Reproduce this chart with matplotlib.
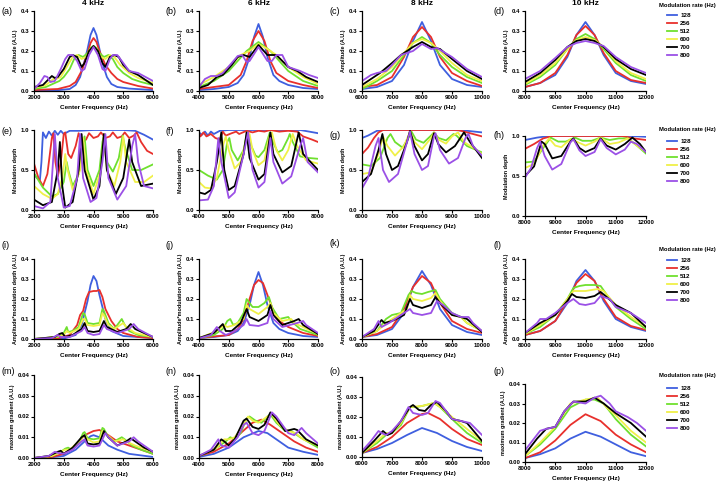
import matplotlib.pyplot as plt
from matplotlib.lines import Line2D

plt.rcParams['font.family'] = ['Liberation Sans', 'DejaVu Sans']

rates = [128, 256, 512, 600, 700, 800]
colors = ['#3f5fdf', '#e8302c', '#6fe02e', '#f0f048', '#000000', '#9b50e6']
titles = ['4 kHz', '6 kHz', '8 kHz', '10 kHz']
xlims = [(2000, 6000), (4000, 8000), (6000, 10000), (8000, 12000)]
ylabels = ['Amplitude (A.U.)', 'Modulation depth',
           'Amplitude*modulation depth (A.U.)', 'maximum gradient (A.U.)']
letters = 'abcdefghijklmnop'

# ---- row 1 : amplitude ----
amp_4k = {
    128: [(2000, .002), (2800, .004), (3200, .01), (3400, .03), (3550, .07), (3700, .15), (3800, .21), (3900, .28), (4000, .315), (4100, .28), (4200, .21), (4300, .14), (4450, .07), (4600, .035), (4800, .02), (5200, .012), (6000, .005)],
    256: [(2000, .005), (2800, .01), (3200, .025), (3400, .045), (3600, .1), (3800, .19), (3900, .24), (4000, .265), (4100, .245), (4200, .2), (4400, .13), (4600, .09), (4800, .06), (5000, .045), (5500, .025), (6000, .012)],
    512: [(2000, .01), (2400, .02), (2700, .04), (2850, .05), (3000, .07), (3200, .11), (3350, .16), (3500, .18), (3650, .17), (3800, .19), (3900, .215), (4000, .225), (4100, .215), (4200, .19), (4350, .17), (4500, .18), (4650, .16), (4800, .12), (5000, .09), (5300, .06), (5600, .045), (6000, .03)],
    600: [(2000, .015), (2400, .03), (2650, .06), (2750, .06), (2900, .07), (3100, .12), (3300, .17), (3450, .18), (3600, .16), (3750, .17), (3900, .21), (4000, .22), (4100, .21), (4250, .17), (4400, .16), (4550, .18), (4700, .17), (4900, .13), (5200, .09), (5500, .065), (6000, .04)],
    700: [(2000, .02), (2300, .03), (2500, .06), (2600, .075), (2700, .065), (2800, .07), (3000, .11), (3200, .17), (3300, .18), (3450, .17), (3600, .12), (3700, .14), (3850, .2), (4000, .225), (4150, .2), (4300, .14), (4400, .12), (4550, .17), (4700, .18), (4850, .17), (5000, .13), (5200, .1), (5500, .08), (5800, .05), (6000, .03)],
    800: [(2000, .01), (2200, .04), (2350, .075), (2450, .07), (2550, .045), (2700, .05), (2900, .11), (3050, .16), (3150, .18), (3300, .18), (3450, .15), (3600, .1), (3700, .11), (3850, .18), (4000, .22), (4150, .18), (4300, .11), (4400, .1), (4550, .16), (4650, .18), (4800, .18), (4950, .15), (5200, .1), (5500, .09), (5750, .07), (6000, .05)],
}
amp_6k = {
    128: [(4000, .005), (4500, .01), (5000, .02), (5300, .04), (5500, .08), (5700, .17), (5850, .27), (6000, .335), (6150, .27), (6300, .17), (6500, .08), (6700, .05), (7000, .03), (7500, .015), (8000, .01)],
    256: [(4000, .01), (5000, .03), (5400, .08), (5600, .15), (5800, .25), (6000, .3), (6200, .25), (6400, .15), (6600, .09), (7000, .05), (7500, .03), (8000, .015)],
    512: [(4000, .02), (4500, .05), (5000, .1), (5300, .15), (5600, .2), (6000, .245), (6400, .2), (6700, .15), (7000, .1), (7500, .05), (8000, .025)],
    600: [(4000, .03), (4500, .07), (5000, .12), (5400, .18), (5700, .2), (6000, .235), (6300, .21), (6600, .18), (7000, .12), (7500, .07), (8000, .035)],
    700: [(4000, .015), (4300, .03), (4600, .07), (4800, .08), (5100, .13), (5300, .17), (5500, .18), (5700, .17), (6000, .23), (6300, .18), (6600, .18), (7000, .12), (7300, .1), (7600, .07), (8000, .045)],
    800: [(4000, .02), (4200, .06), (4400, .075), (4600, .075), (4800, .09), (5100, .14), (5300, .175), (5450, .18), (5600, .145), (5700, .15), (6000, .22), (6300, .15), (6450, .15), (6600, .18), (6800, .18), (7000, .12), (7400, .1), (7700, .08), (8000, .065)],
}
amp_8k = {
    128: [(6000, .01), (6500, .02), (7000, .05), (7400, .13), (7700, .25), (8000, .345), (8300, .25), (8600, .13), (9000, .06), (9500, .03), (10000, .02)],
    256: [(6000, .02), (6500, .03), (7000, .07), (7400, .17), (7700, .27), (8000, .32), (8300, .27), (8600, .17), (9000, .09), (9500, .05), (10000, .025)],
    512: [(6000, .01), (6500, .05), (7000, .1), (7400, .18), (7700, .24), (8000, .27), (8300, .24), (8600, .18), (9000, .12), (9500, .07), (10000, .04)],
    600: [(6000, .02), (6500, .06), (7000, .12), (7400, .19), (7700, .24), (8000, .26), (8300, .24), (8600, .2), (9000, .14), (9500, .08), (10000, .05)],
    700: [(6000, .03), (6300, .06), (6600, .09), (7000, .14), (7300, .18), (7500, .2), (7700, .22), (8000, .245), (8300, .22), (8600, .21), (9000, .16), (9500, .1), (10000, .06)],
    800: [(6000, .05), (6300, .08), (6500, .09), (6800, .1), (7000, .13), (7300, .18), (7500, .19), (7700, .2), (8000, .235), (8300, .21), (8500, .215), (9000, .17), (9500, .11), (10000, .07)],
}
amp_10k = {
    128: [(8000, .02), (8500, .04), (9000, .08), (9400, .17), (9700, .28), (10000, .345), (10300, .28), (10600, .18), (11000, .09), (11500, .05), (12000, .035)],
    256: [(8000, .02), (8500, .04), (9000, .09), (9400, .18), (9700, .28), (10000, .325), (10300, .28), (10600, .19), (11000, .1), (11500, .055), (12000, .04)],
    512: [(8000, .03), (8500, .07), (9000, .13), (9400, .21), (9700, .26), (10000, .285), (10300, .26), (10600, .21), (11000, .14), (11500, .08), (12000, .05)],
    600: [(8000, .035), (8500, .08), (9000, .14), (9400, .21), (9700, .255), (10000, .27), (10300, .255), (10600, .22), (11000, .15), (11500, .09), (12000, .06)],
    700: [(8000, .045), (8500, .09), (9000, .155), (9400, .22), (9700, .25), (10000, .26), (10300, .25), (10600, .22), (11000, .16), (11500, .11), (12000, .08)],
    800: [(8000, .06), (8500, .1), (9000, .165), (9400, .22), (9700, .24), (10000, .25), (10300, .24), (10600, .225), (11000, .17), (11500, .12), (12000, .09)],
}

# ---- row 2 : modulation depth ----
depth_4k = {
    128: [(2000, .45), (2100, .4), (2200, .38), (2250, .6), (2300, .97), (2400, .9), (2500, .98), (2600, .93), (2700, .99), (2800, .94), (2900, .99), (3000, .95), (3200, .99), (3500, .99), (4000, 1.0), (5000, 1.0), (5400, .99), (5700, .94), (6000, .88)],
    256: [(2000, .58), (2150, .4), (2300, .3), (2450, .45), (2600, .9), (2650, .96), (2720, .6), (2800, .42), (2900, .6), (3000, .95), (3050, .97), (3150, .7), (3250, .65), (3400, .8), (3500, .96), (3600, .85), (3750, .88), (3850, .96), (4000, .9), (4150, .92), (4250, .97), (4400, .9), (4550, .92), (4650, .97), (4800, .9), (4950, .92), (5050, .97), (5200, .9), (5350, .93), (5450, .97), (5600, .85), (5800, .74), (6000, .7)],
    512: [(2000, .46), (2300, .28), (2600, .17), (2800, .2), (3000, .35), (3100, .6), (3150, .5), (3300, .3), (3500, .45), (3650, .85), (3700, .92), (3800, .5), (4000, .3), (4200, .5), (4300, .85), (4350, .93), (4450, .6), (4650, .48), (4850, .65), (4980, .93), (5050, .8), (5300, .5), (5600, .5), (6000, .57)],
    600: [(2000, .3), (2300, .2), (2600, .14), (2800, .2), (2950, .4), (3050, .7), (3100, .55), (3300, .25), (3550, .5), (3650, .9), (3750, .5), (4000, .2), (4250, .5), (4350, .95), (4450, .5), (4700, .3), (4900, .6), (5000, .92), (5100, .6), (5400, .35), (5700, .35), (6000, .43)],
    700: [(2000, .13), (2300, .06), (2600, .1), (2800, .5), (2870, .85), (2950, .3), (3050, .03), (3300, .1), (3500, .5), (3600, .95), (3700, .5), (4000, .13), (4200, .3), (4350, .95), (4450, .5), (4750, .2), (5000, .4), (5200, .88), (5300, .6), (5600, .3), (6000, .33)],
    800: [(2000, .05), (2300, .02), (2550, .1), (2700, .95), (2800, .4), (3000, .03), (3200, .05), (3450, .4), (3550, .95), (3650, .4), (3900, .1), (4100, .15), (4300, .6), (4400, .95), (4500, .4), (4800, .13), (5100, .3), (5300, .8), (5400, .95), (5500, .6), (5700, .3), (6000, .27)],
}
depth_6k = {
    128: [(4000, .97), (4100, .94), (4200, .98), (4300, .93), (4400, .98), (4500, .95), (4700, .99), (5000, 1.0), (7400, 1.0), (7700, .98), (8000, .96)],
    256: [(4000, .96), (4050, .92), (4150, .97), (4250, .92), (4400, .95), (4550, .9), (4700, .88), (4800, .98), (4900, .93), (5100, .96), (5250, .98), (5350, .95), (5600, .99), (5800, .97), (6000, .99), (6200, .98), (6400, 1.0), (6700, .98), (7000, .99), (7300, .98), (7500, .92), (7800, .88), (8000, .85)],
    512: [(4000, .5), (4300, .43), (4600, .38), (4800, .5), (4950, .85), (5020, .9), (5100, .75), (5300, .62), (5500, .75), (5620, .97), (5700, .85), (5900, .68), (6000, .66), (6200, .75), (6380, .97), (6450, .88), (6650, .72), (6800, .75), (7000, .9), (7050, .95), (7150, .85), (7400, .67), (7700, .65), (8000, .64)],
    600: [(4000, .35), (4200, .28), (4400, .27), (4600, .4), (4800, .8), (4900, .92), (5000, .75), (5200, .52), (5400, .6), (5600, .9), (5700, .95), (5800, .75), (6000, .56), (6200, .62), (6350, .9), (6450, .97), (6600, .75), (6800, .62), (7000, .75), (7150, .95), (7300, .8), (7600, .62), (8000, .58)],
    700: [(4000, .22), (4200, .2), (4400, .25), (4600, .6), (4750, .97), (4850, .5), (5000, .25), (5200, .3), (5500, .7), (5600, .97), (5700, .65), (6000, .38), (6200, .45), (6400, .97), (6500, .7), (6800, .47), (7100, .55), (7350, .97), (7500, .7), (8000, .5)],
    800: [(4000, .12), (4300, .13), (4500, .3), (4650, .9), (4750, .6), (5000, .15), (5200, .22), (5500, .7), (5650, .97), (5800, .5), (6000, .28), (6200, .35), (6400, .9), (6500, .6), (6800, .33), (7100, .42), (7400, .8), (7500, .9), (7650, .6), (8000, .47)],
}
depth_8k = {
    128: [(6000, .9), (6200, .93), (6500, .99), (6700, 1.0), (9000, 1.0), (9500, .99), (10000, .97)],
    256: [(6000, .7), (6200, .78), (6400, .9), (6550, .97), (6700, 1.0), (9200, 1.0), (9500, .97), (10000, .92)],
    512: [(6000, .57), (6300, .55), (6600, .65), (6850, .9), (6950, .95), (7100, .85), (7350, .78), (7550, .9), (7650, .98), (7800, .88), (8050, .84), (8300, .93), (8400, .97), (8550, .9), (8800, .87), (9050, .95), (9150, .93), (9500, .8), (10000, .72)],
    600: [(6000, .45), (6300, .47), (6550, .7), (6700, .92), (6850, .8), (7100, .68), (7400, .8), (7600, .98), (7750, .85), (8000, .76), (8300, .9), (8400, .97), (8550, .88), (8800, .83), (9000, .92), (9200, .97), (9400, .85), (9700, .78), (10000, .7)],
    700: [(6000, .35), (6300, .45), (6550, .75), (6680, .95), (6800, .7), (7000, .5), (7200, .55), (7500, .85), (7600, .99), (7750, .8), (8000, .62), (8200, .7), (8400, .96), (8550, .82), (8800, .72), (9100, .8), (9400, .97), (9600, .85), (10000, .65)],
    800: [(6000, .27), (6200, .4), (6450, .8), (6550, .9), (6700, .5), (6900, .35), (7200, .45), (7500, .85), (7600, .98), (7750, .7), (8000, .5), (8200, .55), (8400, .92), (8450, .96), (8600, .75), (8900, .58), (9200, .65), (9450, .9), (9550, .95), (9700, .8), (10000, .68)],
}
depth_10k = {
    128: [(8000, .95), (8400, .98), (8800, 1.0), (11500, 1.0), (12000, .99)],
    256: [(8000, .84), (8300, .9), (8600, .97), (8900, 1.0), (11200, 1.0), (11600, .97), (12000, .95)],
    512: [(8000, .67), (8300, .68), (8600, .85), (8850, .98), (9100, .93), (9350, .93), (9650, .98), (9900, .94), (10200, .94), (10500, .98), (10800, .95), (11100, .97), (11400, .97), (11700, .88), (12000, .78)],
    600: [(8000, .6), (8300, .65), (8600, .88), (8800, .97), (9000, .88), (9200, .86), (9500, .96), (9700, .93), (10000, .88), (10300, .93), (10500, .98), (10800, .9), (11100, .92), (11400, .97), (11700, .88), (12000, .8)],
    700: [(8000, .5), (8300, .62), (8550, .93), (8650, .9), (8900, .72), (9200, .75), (9500, .93), (9600, .97), (9800, .85), (10000, .8), (10300, .85), (10500, .97), (10700, .88), (11000, .83), (11300, .9), (11550, .98), (11800, .9), (12000, .8)],
    800: [(8000, .48), (8200, .6), (8400, .85), (8500, .93), (8650, .75), (8900, .58), (9200, .65), (9500, .92), (9600, .96), (9800, .82), (10000, .75), (10300, .8), (10500, .96), (10700, .85), (11000, .77), (11300, .83), (11500, .93), (11700, .9), (12000, .8)],
}

# ---- row 3 : amplitude * modulation depth ----
prod_4k = {
    128: [(2000, 0), (3000, .002), (3400, .02), (3600, .07), (3800, .19), (3900, .27), (4000, .315), (4100, .29), (4200, .22), (4400, .1), (4600, .04), (5000, .015), (6000, .005)],
    256: [(2000, 0), (2800, .003), (3200, .02), (3450, .07), (3550, .12), (3650, .14), (3750, .2), (3850, .235), (4000, .24), (4100, .24), (4200, .245), (4300, .21), (4400, .15), (4500, .12), (4600, .09), (4800, .05), (5000, .03), (5500, .01), (6000, .005)],
    512: [(2000, 0), (2800, .01), (3000, .03), (3100, .06), (3150, .035), (3300, .04), (3500, .06), (3650, .13), (3700, .125), (3800, .08), (4000, .075), (4200, .08), (4300, .15), (4350, .14), (4500, .08), (4700, .05), (4950, .1), (5050, .07), (5200, .04), (5500, .02), (6000, .01)],
    600: [(2000, 0), (2700, .01), (3000, .02), (3100, .04), (3200, .03), (3500, .05), (3650, .1), (3700, .1), (3800, .07), (4000, .065), (4200, .07), (4300, .13), (4350, .12), (4500, .07), (4700, .05), (5000, .08), (5100, .06), (5400, .03), (6000, .01)],
    700: [(2000, 0), (2700, .01), (2850, .025), (2950, .03), (3050, .01), (3300, .02), (3600, .05), (3700, .08), (3800, .04), (4000, .035), (4200, .04), (4350, .09), (4450, .06), (4800, .035), (5100, .05), (5250, .075), (5400, .05), (6000, .01)],
    800: [(2000, 0), (2600, .005), (2800, .02), (2900, .01), (3200, .01), (3600, .04), (3700, .06), (3800, .03), (4000, .02), (4200, .025), (4350, .07), (4450, .05), (4800, .03), (5200, .05), (5350, .075), (5500, .05), (6000, .01)],
}
prod_6k = {
    128: [(4000, .005), (4500, .01), (5000, .02), (5300, .04), (5500, .08), (5700, .17), (5850, .27), (6000, .335), (6150, .27), (6300, .17), (6500, .08), (6700, .05), (7000, .03), (7500, .015), (8000, .01)],
    256: [(4000, .005), (5000, .02), (5300, .05), (5500, .1), (5700, .2), (5850, .27), (6000, .295), (6150, .28), (6300, .22), (6500, .14), (6700, .09), (7000, .06), (7500, .03), (8000, .015)],
    512: [(4000, .003), (4500, .02), (4800, .05), (4950, .09), (5050, .1), (5150, .07), (5300, .08), (5500, .13), (5600, .2), (5650, .19), (5800, .16), (6000, .16), (6200, .18), (6350, .21), (6450, .16), (6700, .1), (7000, .11), (7100, .09), (7400, .05), (8000, .02)],
    600: [(4000, .004), (4600, .04), (4850, .07), (4950, .06), (5200, .07), (5500, .1), (5600, .17), (5700, .15), (6000, .125), (6300, .16), (6400, .18), (6500, .13), (6800, .09), (7100, .1), (7200, .08), (8000, .025)],
    700: [(4000, .005), (4500, .03), (4700, .06), (4800, .075), (4900, .04), (5100, .04), (5400, .08), (5600, .15), (5700, .11), (6000, .09), (6300, .12), (6400, .17), (6500, .12), (6800, .07), (7200, .09), (7350, .1), (7500, .07), (8000, .025)],
    800: [(4000, .003), (4400, .02), (4600, .06), (4700, .04), (4900, .02), (5200, .04), (5500, .07), (5600, .1), (5700, .07), (6000, .065), (6300, .08), (6400, .14), (6500, .1), (6800, .06), (7300, .08), (7500, .09), (7600, .07), (8000, .03)],
}
prod_8k = {
    128: [(6000, .01), (6500, .02), (7000, .05), (7400, .13), (7700, .26), (8000, .34), (8300, .27), (8600, .15), (9000, .07), (9500, .035), (10000, .02)],
    256: [(6000, .01), (6500, .025), (7000, .06), (7400, .15), (7700, .26), (8000, .315), (8300, .28), (8600, .18), (9000, .09), (9500, .05), (10000, .03)],
    512: [(6000, .01), (6500, .04), (6800, .1), (7000, .12), (7300, .13), (7550, .22), (7650, .24), (7800, .23), (8000, .225), (8200, .235), (8450, .245), (8600, .2), (9000, .13), (9300, .11), (9500, .08), (10000, .04)],
    600: [(6000, .01), (6500, .04), (6900, .09), (7100, .11), (7500, .15), (7600, .22), (7700, .2), (8000, .19), (8300, .205), (8450, .23), (8600, .19), (9000, .12), (9300, .11), (9500, .08), (10000, .04)],
    700: [(6000, .01), (6400, .04), (6650, .095), (6750, .08), (7000, .09), (7400, .12), (7600, .2), (7700, .17), (8000, .155), (8300, .17), (8450, .21), (8600, .18), (9000, .12), (9300, .11), (9500, .1), (10000, .035)],
    800: [(6000, .01), (6400, .05), (6550, .09), (6650, .06), (6900, .08), (7300, .12), (7600, .15), (7700, .13), (8000, .12), (8300, .13), (8500, .19), (8700, .17), (9000, .13), (9300, .11), (9550, .11), (9700, .08), (10000, .04)],
}
prod_10k = {
    128: [(8000, .02), (8500, .04), (9000, .09), (9400, .18), (9700, .29), (10000, .345), (10300, .29), (10600, .19), (11000, .1), (11500, .06), (12000, .04)],
    256: [(8000, .02), (8500, .04), (9000, .09), (9400, .19), (9700, .28), (10000, .325), (10300, .29), (10600, .2), (11000, .11), (11500, .065), (12000, .045)],
    512: [(8000, .025), (8500, .06), (9000, .12), (9400, .2), (9600, .255), (9800, .265), (10000, .27), (10300, .27), (10500, .265), (10800, .2), (11000, .16), (11500, .1), (12000, .05)],
    600: [(8000, .025), (8500, .07), (9000, .12), (9400, .2), (9600, .24), (10000, .24), (10400, .25), (10600, .24), (11000, .17), (11500, .11), (12000, .06)],
    700: [(8000, .03), (8500, .08), (9000, .12), (9400, .19), (9550, .225), (9700, .21), (10000, .205), (10300, .215), (10500, .235), (10700, .21), (11000, .17), (11500, .13), (12000, .06)],
    800: [(8000, .03), (8400, .08), (8500, .1), (8700, .1), (9000, .13), (9400, .18), (9600, .2), (9800, .175), (10000, .17), (10300, .18), (10500, .215), (10800, .2), (11000, .16), (11500, .13), (11800, .1), (12000, .08)],
}

# ---- row 4 : maximum gradient ----
grad_4k = {
    128: [(2000, 0), (2500, .0002), (3000, .001), (3400, .004), (3700, .008), (3900, .0105), (4000, .011), (4200, .01), (4500, .006), (4800, .004), (5200, .002), (6000, .0005)],
    256: [(2000, 0), (2600, .0005), (3000, .002), (3400, .006), (3700, .011), (4000, .013), (4200, .0135), (4500, .011), (4800, .008), (5200, .006), (5600, .004), (6000, .002)],
    512: [(2000, 0), (2600, .001), (2900, .003), (3050, .0045), (3150, .005), (3250, .004), (3500, .007), (3650, .012), (3700, .0125), (3800, .0095), (4000, .009), (4200, .0095), (4300, .0145), (4350, .014), (4500, .01), (4700, .008), (4950, .01), (5050, .009), (5300, .006), (5600, .004), (6000, .002)],
    600: [(2000, 0), (2600, .001), (2900, .003), (3050, .004), (3200, .004), (3500, .008), (3700, .011), (3800, .009), (4000, .0075), (4200, .008), (4300, .013), (4400, .012), (4700, .008), (5000, .009), (5100, .008), (5400, .006), (6000, .003)],
    700: [(2000, 0), (2500, .001), (2800, .003), (2900, .0035), (3000, .002), (3300, .005), (3600, .01), (3700, .011), (3800, .007), (4000, .0065), (4200, .007), (4350, .013), (4500, .01), (4800, .006), (5100, .008), (5250, .0095), (5400, .008), (5700, .005), (6000, .003)],
    800: [(2000, 0), (2500, .001), (2700, .003), (2800, .0025), (3000, .002), (3300, .004), (3600, .008), (3700, .009), (3800, .006), (4000, .0055), (4200, .006), (4400, .012), (4500, .01), (4800, .006), (5200, .008), (5350, .01), (5500, .008), (5800, .005), (6000, .003)],
}
grad_6k = {
    128: [(4000, .0005), (4500, .002), (5000, .005), (5500, .01), (6000, .013), (6300, .012), (6600, .009), (7000, .005), (7500, .003), (8000, .0015)],
    256: [(4000, .001), (4500, .003), (5000, .007), (5400, .012), (5800, .017), (6100, .0185), (6400, .016), (6800, .012), (7200, .008), (7600, .005), (8000, .003)],
    512: [(4000, .001), (4500, .004), (4900, .008), (5050, .01), (5200, .009), (5400, .012), (5600, .019), (5700, .02), (5900, .018), (6100, .017), (6300, .02), (6400, .021), (6600, .017), (6900, .013), (7100, .013), (7400, .01), (8000, .005)],
    600: [(4000, .001), (4600, .005), (4850, .009), (5000, .009), (5200, .01), (5500, .016), (5650, .02), (5800, .018), (6000, .017), (6300, .02), (6450, .021), (6700, .016), (7000, .013), (7250, .012), (7500, .009), (8000, .006)],
    700: [(4000, .001), (4500, .004), (4750, .009), (4850, .008), (5000, .006), (5200, .009), (5500, .018), (5600, .019), (5800, .015), (6000, .014), (6200, .016), (6400, .022), (6600, .019), (6900, .013), (7200, .014), (7300, .0135), (7600, .009), (8000, .006)],
    800: [(4000, .001), (4400, .004), (4650, .009), (4750, .006), (5000, .005), (5300, .01), (5500, .016), (5600, .017), (5800, .012), (6000, .011), (6200, .013), (6450, .022), (6600, .02), (7000, .012), (7200, .011), (7450, .0145), (7600, .012), (8000, .007)],
}
grad_8k = {
    128: [(6000, .002), (6500, .004), (7000, .007), (7500, .011), (8000, .0145), (8500, .012), (9000, .008), (9500, .005), (10000, .003)],
    256: [(6000, .002), (6500, .005), (7000, .01), (7500, .017), (8000, .0215), (8200, .022), (8600, .019), (9000, .014), (9500, .009), (10000, .006)],
    512: [(6000, .002), (6500, .007), (6800, .011), (7000, .012), (7300, .016), (7600, .025), (7800, .025), (8000, .0255), (8400, .027), (8600, .025), (9000, .019), (9500, .012), (10000, .007)],
    600: [(6000, .002), (6500, .008), (6800, .012), (7000, .012), (7300, .017), (7600, .025), (8000, .0255), (8400, .027), (8700, .024), (9000, .02), (9500, .014), (10000, .008)],
    700: [(6000, .002), (6400, .008), (6700, .013), (6850, .011), (7000, .012), (7300, .018), (7600, .025), (7700, .026), (7900, .0235), (8100, .023), (8300, .026), (8500, .0275), (8800, .023), (9000, .019), (9300, .018), (9500, .017), (10000, .008)],
    800: [(6000, .003), (6300, .008), (6550, .013), (6650, .012), (6800, .011), (7000, .013), (7300, .018), (7550, .025), (7700, .022), (8000, .021), (8200, .022), (8450, .028), (8600, .027), (9000, .019), (9300, .018), (9600, .017), (10000, .011)],
}
grad_10k = {
    128: [(8000, .002), (8500, .004), (9000, .007), (9500, .012), (10000, .0155), (10500, .013), (11000, .009), (11500, .005), (12000, .003)],
    256: [(8000, .002), (8500, .005), (9000, .011), (9500, .019), (10000, .0245), (10500, .021), (11000, .014), (11500, .009), (12000, .005)],
    512: [(8000, .003), (8500, .009), (9000, .017), (9500, .028), (10000, .032), (10300, .032), (10600, .03), (11000, .022), (11500, .014), (12000, .008)],
    600: [(8000, .003), (8500, .01), (9000, .018), (9500, .03), (10000, .032), (10400, .033), (10700, .028), (11000, .024), (11500, .016), (12000, .01)],
    700: [(8000, .004), (8400, .012), (8700, .017), (9000, .018), (9300, .026), (9600, .031), (10000, .031), (10300, .033), (10600, .03), (11000, .025), (11500, .02), (12000, .013)],
    800: [(8000, .006), (8300, .012), (8500, .016), (8700, .017), (9000, .018), (9300, .026), (9600, .031), (10000, .03), (10300, .033), (10500, .034), (10800, .03), (11000, .026), (11400, .023), (11700, .02), (12000, .016)],
}

panels = [[amp_4k, amp_6k, amp_8k, amp_10k],
          [depth_4k, depth_6k, depth_8k, depth_10k],
          [prod_4k, prod_6k, prod_8k, prod_10k],
          [grad_4k, grad_6k, grad_8k, grad_10k]]

yticks = [[0, .1, .2, .3, .4], [0, .5, 1.0], [0, .1, .2, .3, .4], [0, .01, .02, .03, .04]]
yfmt = ['%.1f', '%.1f', '%.1f', '%.2f']
ymax = [.4, 1.0, .4, .04]

# layout in pixels
W, H = 722, 484
col_lr = [(34, 153), (199, 318), (362, 482), (525, 646)]
row_tb = [(11, 91), (130, 210), (259, 339), (375, 458)]
special = {(1, 3): (136, 216), (3, 2): (377, 457), (3, 3): (384, 462)}
letter_x = [1, 166, 330, 493]
letter_y = [[12, 12, 12, 12], [131, 131, 135, 135], [246, 246, 244, 246], [371, 371, 372, 372]]
legend_top = [12.5, 138.5, 257.5, 385.5]
legend_title_y = [6, 129, 249, 376]

fig = plt.figure(figsize=(W / 100, H / 100), dpi=100)

for r in range(4):
    for c in range(4):
        left, right = col_lr[c]
        top, bottom = special.get((r, c), row_tb[r])
        ax = fig.add_axes([left / W, 1 - bottom / H, (right - left) / W, (bottom - top) / H])
        data = panels[r][c]
        for rate, col in zip(rates, colors):
            xs = [p[0] for p in data[rate]]
            ys = [p[1] for p in data[rate]]
            ax.plot(xs, ys, color=col, lw=1.3, label=str(rate))
        ax.set_xlim(*xlims[c])
        ax.set_ylim(0, ymax[r])
        ax.set_xticks(range(xlims[c][0], xlims[c][1] + 1, 1000))
        ax.set_yticks(yticks[r])
        ax.set_yticklabels([yfmt[r] % v for v in yticks[r]])
        for s in ['top', 'right']:
            ax.spines[s].set_visible(False)
        for s in ['left', 'bottom']:
            ax.spines[s].set_linewidth(0.9)
        ax.tick_params(direction='out', length=2, width=0.8, labelsize=4.4, pad=1.2)
        for lab in ax.get_xticklabels() + ax.get_yticklabels():
            lab.set_fontweight('bold')
        ax.set_xlabel('Center Frequency (Hz)', fontsize=4.6, fontweight='bold', labelpad=3)
        ax.set_ylabel(ylabels[r], fontsize=3.9, fontweight='bold', labelpad=2)
        if r == 0:
            ax.set_title(titles[c], fontsize=6, fontweight='bold', pad=4)
        fig.text(letter_x[c] / W, 1 - letter_y[r][c] / H, '(%s)' % letters[r * 4 + c],
                 fontsize=6.5, ha='left', va='center')

    # legend for this row
    fig.text(659 / W, 1 - legend_title_y[r] / H, 'Modulation rate (Hz)',
             fontsize=4.2, fontweight='bold', ha='left', va='center')
    handles = [Line2D([], [], color=col, lw=1.3) for col in colors]
    fig.legend(handles, [str(v) for v in rates], loc='upper left',
               bbox_to_anchor=(667 / W, 1 - legend_top[r] / H), frameon=False,
               prop={'size': 4.5, 'weight': 'bold'}, handlelength=1.6,
               handletextpad=0.5, labelspacing=0.42, borderpad=0, borderaxespad=0)

fig.savefig('out.png', dpi=100)
